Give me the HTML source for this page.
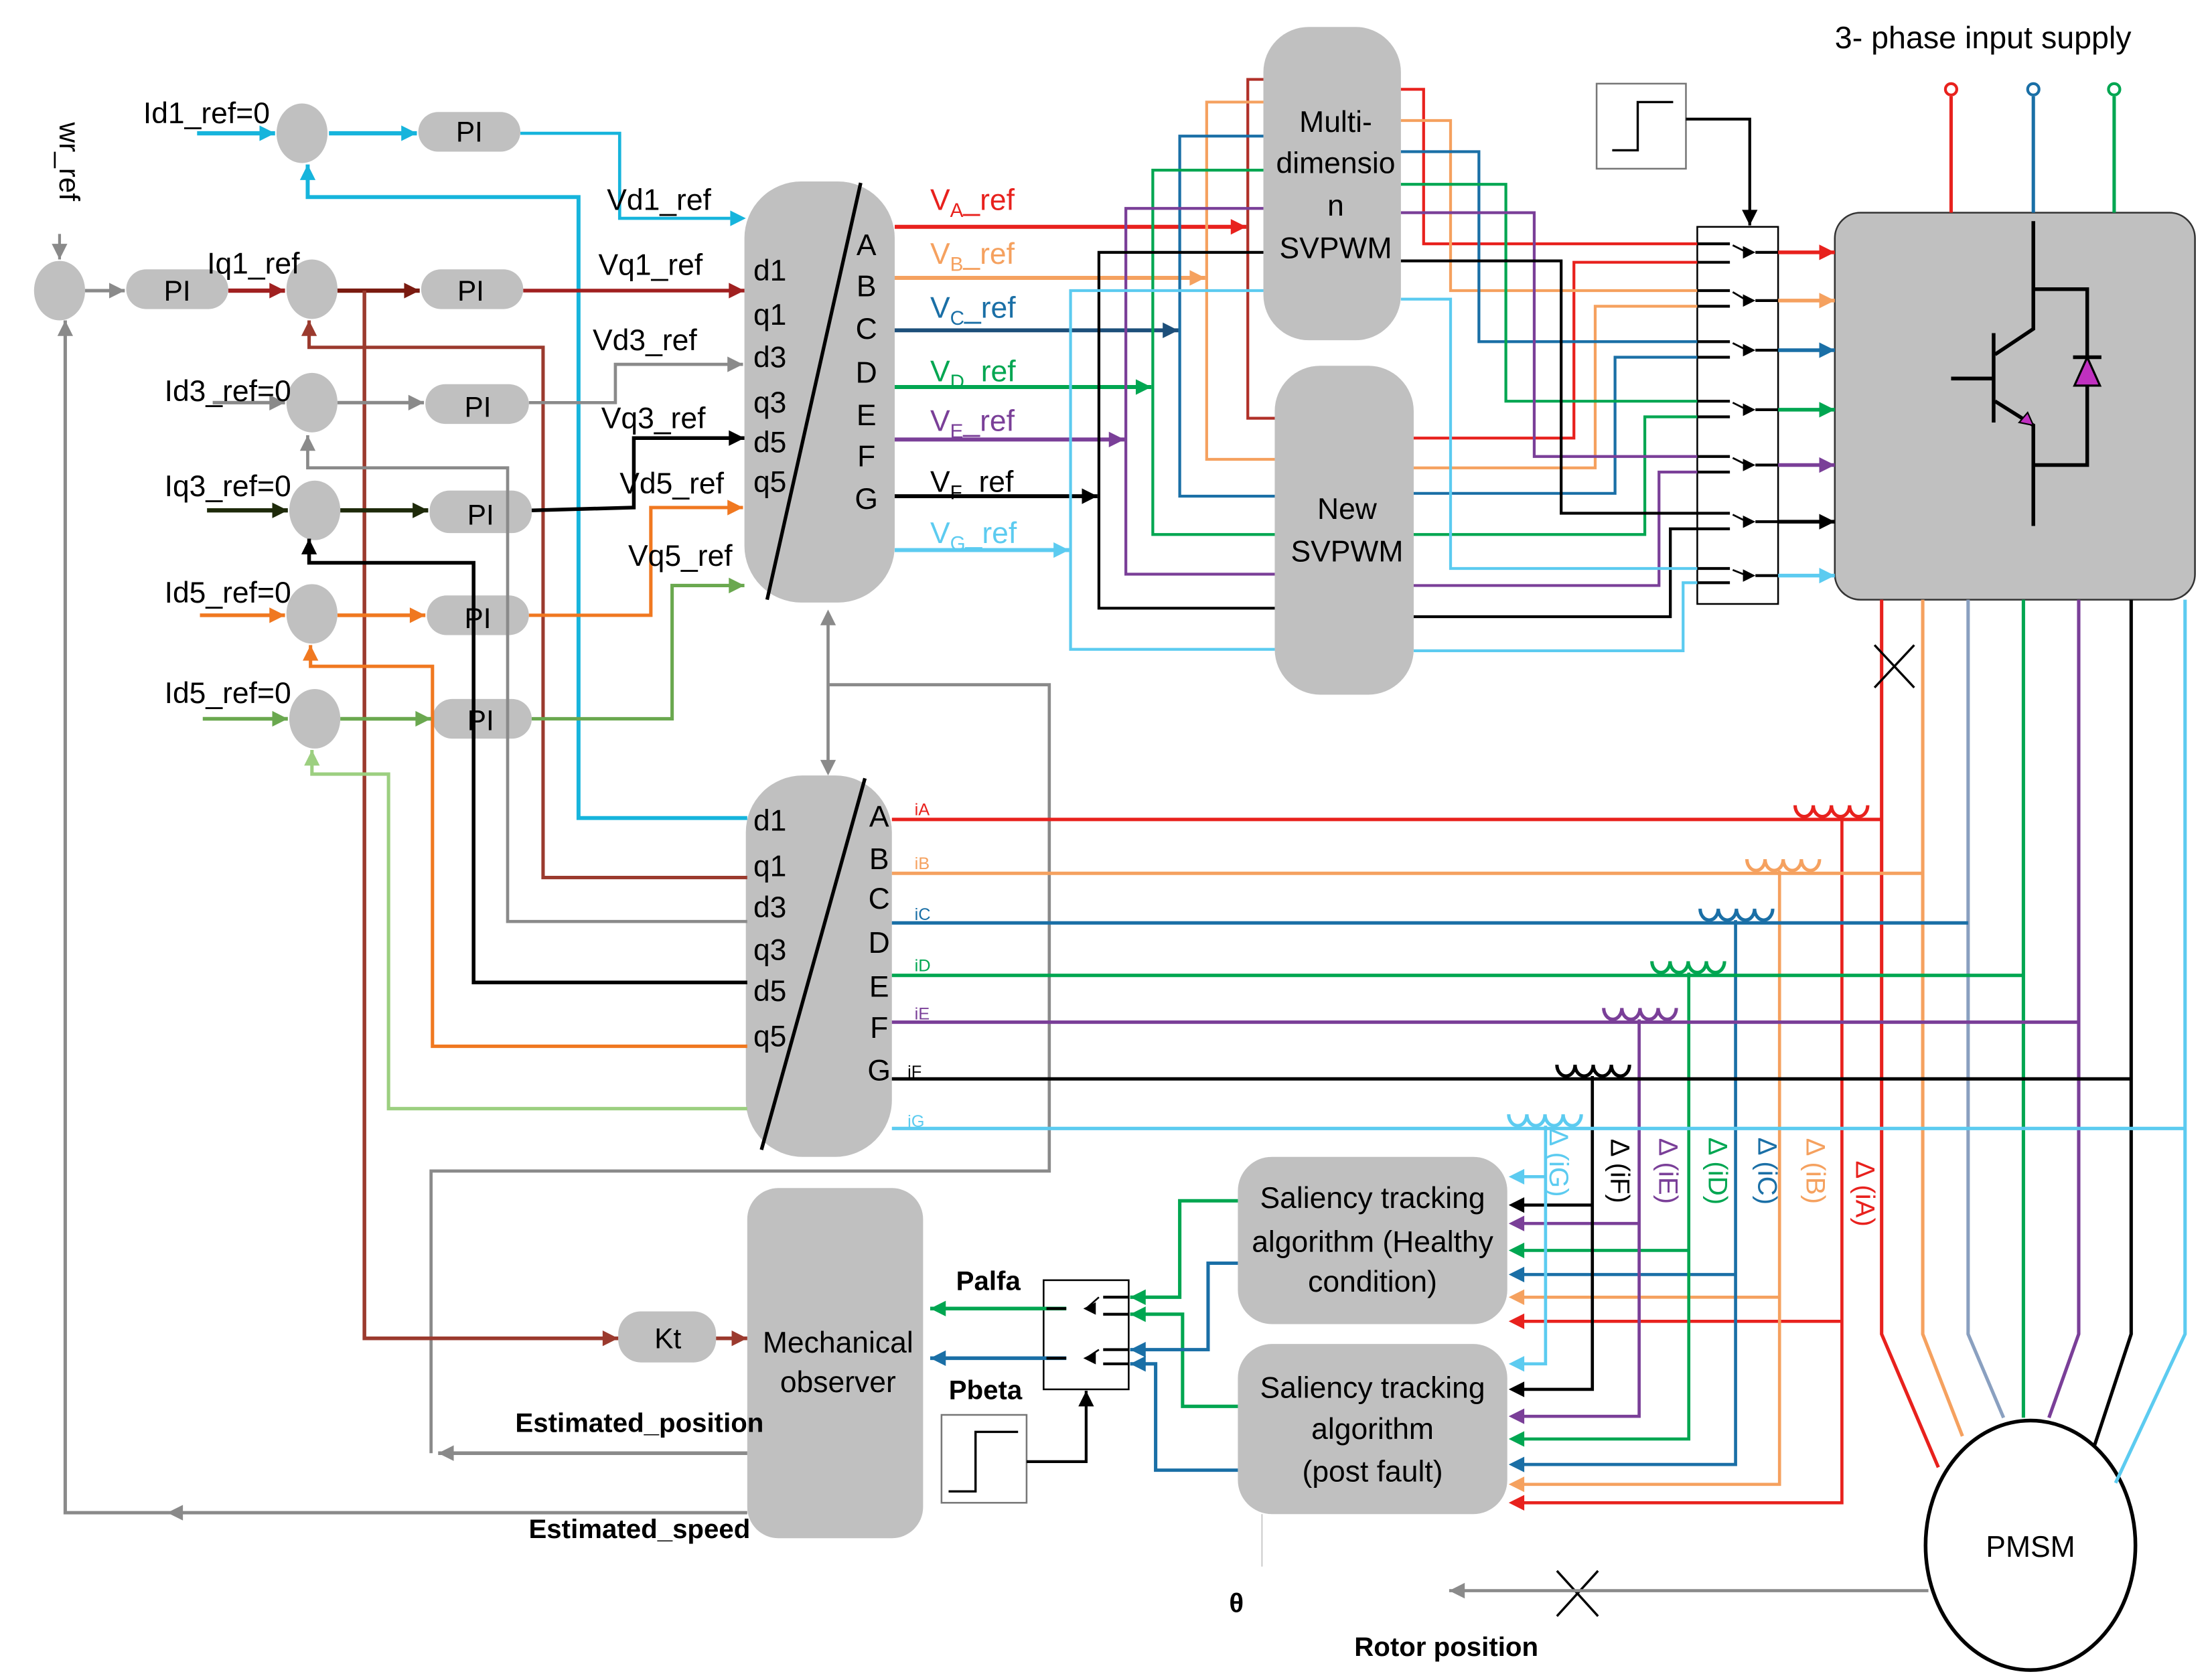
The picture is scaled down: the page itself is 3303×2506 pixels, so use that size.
<!DOCTYPE html>
<html><head><meta charset="utf-8">
<style>
html,body{margin:0;padding:0;background:#fff;}
svg{display:block;}
text{font-family:"Liberation Sans",Arial,sans-serif;}
</style></head>
<body>
<svg id="s" width="3303" height="2506" viewBox="0 0 1560 1183.6" preserveAspectRatio="none" xmlns="http://www.w3.org/2000/svg">
<rect x="0" y="0" width="1560" height="1184" fill="#fff"/>
<g id="shapes"></g>
<g id="lines" fill="none" stroke-linejoin="miter"></g>
<g id="arrows"></g>
<g font-size="21" fill="#000">
<!-- left labels -->
<text x="42" y="114" font-size="20" transform="rotate(90 42 114)" text-anchor="middle">wr_ref</text>
<text x="101" y="87">Id1_ref=0</text>
<text x="146" y="193">Iq1_ref</text>
<text x="116" y="283">Id3_ref=0</text>
<text x="116" y="350">Iq3_ref=0</text>
<text x="116" y="425">Id5_ref=0</text>
<text x="116" y="496">Id5_ref=0</text>
<text x="428" y="148">Vd1_ref</text>
<text x="422" y="194">Vq1_ref</text>
<text x="418" y="247">Vd3_ref</text>
<text x="424" y="302">Vq3_ref</text>
<text x="437" y="348">Vd5_ref</text>
<text x="443" y="399">Vq5_ref</text>
<g font-size="20" text-anchor="middle">
<text x="125" y="212">PI</text><text x="332" y="212">PI</text><text x="331" y="100">PI</text>
<text x="337" y="294">PI</text><text x="339" y="370">PI</text><text x="337" y="443">PI</text><text x="339" y="515">PI</text>
<text x="471" y="951">Kt</text>
</g>
<g font-size="21" text-anchor="middle">
<text x="543" y="198">d1</text><text x="543" y="229">q1</text><text x="543" y="259">d3</text><text x="543" y="291">q3</text><text x="543" y="319">d5</text><text x="543" y="347">q5</text>
<text x="611" y="180">A</text><text x="611" y="209">B</text><text x="611" y="239">C</text><text x="611" y="270">D</text><text x="611" y="300">E</text><text x="611" y="329">F</text><text x="611" y="359">G</text>
<text x="543" y="586">d1</text><text x="543" y="618">q1</text><text x="543" y="647">d3</text><text x="543" y="677">q3</text><text x="543" y="706">d5</text><text x="543" y="738">q5</text>
<text x="620" y="583">A</text><text x="620" y="613">B</text><text x="620" y="641">C</text><text x="620" y="672">D</text><text x="620" y="703">E</text><text x="620" y="732">F</text><text x="620" y="762">G</text>
<text x="942" y="93">Multi-</text><text x="942" y="122">dimensio</text><text x="942" y="152">n</text><text x="942" y="182">SVPWM</text>
<text x="950" y="366">New</text><text x="950" y="396">SVPWM</text>
<text x="968" y="852">Saliency tracking</text><text x="968" y="883">algorithm (Healthy</text><text x="968" y="911">condition)</text>
<text x="968" y="986">Saliency tracking</text><text x="968" y="1015">algorithm</text><text x="968" y="1045">(post fault)</text>
<text x="591" y="954">Mechanical</text><text x="591" y="982">observer</text>
<text x="1432" y="1098">PMSM</text>
</g>
<text x="1294" y="34" font-size="22">3- phase input supply</text>
<g font-size="21">
<text x="656" y="148" fill="#e8211d">V<tspan font-size="14" dy="5">A</tspan><tspan dy="-5">_ref</tspan></text>
<text x="656" y="186" fill="#f5a15f">V<tspan font-size="14" dy="5">B</tspan><tspan dy="-5">_ref</tspan></text>
<text x="656" y="224" fill="#1a6fa6">V<tspan font-size="14" dy="5">C</tspan><tspan dy="-5">_ref</tspan></text>
<text x="656" y="269" fill="#00a651">V<tspan font-size="14" dy="5">D</tspan><tspan dy="-5">_ref</tspan></text>
<text x="656" y="304" fill="#7a3f98">V<tspan font-size="14" dy="5">E</tspan><tspan dy="-5">_ref</tspan></text>
<text x="656" y="347" fill="#000">V<tspan font-size="14" dy="5">F</tspan><tspan dy="-5">_ref</tspan></text>
<text x="656" y="383" fill="#5ccbf0">V<tspan font-size="14" dy="5">G</tspan><tspan dy="-5">_ref</tspan></text>
</g>
<g font-size="12">
<text x="645" y="575" fill="#e8211d">iA</text><text x="645" y="613" fill="#f5a15f">iB</text><text x="645" y="649" fill="#1a6fa6">iC</text>
<text x="645" y="685" fill="#00a651">iD</text><text x="645" y="719" fill="#7a3f98">iE</text><text x="640" y="760" fill="#000">iF</text><text x="640" y="795" fill="#5ccbf0">iG</text>
</g>
<g font-size="19">
<text x="1093" y="820" transform="rotate(90 1093 820)" text-anchor="middle" fill="#5ccbf0">Δ (iG)</text>
<text x="1136" y="826" transform="rotate(90 1136 826)" text-anchor="middle" fill="#000">Δ (iF)</text>
<text x="1170" y="826" transform="rotate(90 1170 826)" text-anchor="middle" fill="#7a3f98">Δ (iE)</text>
<text x="1205" y="826" transform="rotate(90 1205 826)" text-anchor="middle" fill="#00a651">Δ (iD)</text>
<text x="1240" y="826" transform="rotate(90 1240 826)" text-anchor="middle" fill="#1a6fa6">Δ (iC)</text>
<text x="1274" y="826" transform="rotate(90 1274 826)" text-anchor="middle" fill="#f5a15f">Δ (iB)</text>
<text x="1309" y="842" transform="rotate(90 1309 842)" text-anchor="middle" fill="#e8211d">Δ (iA)</text>
</g>
<g font-weight="bold" font-size="19">
<text x="697" y="910" text-anchor="middle">Palfa</text>
<text x="695" y="987" text-anchor="middle">Pbeta</text>
<text x="451" y="1010" text-anchor="middle">Estimated_position</text>
<text x="451" y="1085" text-anchor="middle">Estimated_speed</text>
<text x="872" y="1137" text-anchor="middle">θ</text>
<text x="1020" y="1168" text-anchor="middle">Rotor position</text>
</g>
</g>
</svg>
<script>
(function(){
var NS="http://www.w3.org/2000/svg";
var G1=document.getElementById('shapes'),GL=document.getElementById('lines'),GA=document.getElementById('arrows');
function el(p,t,a){var e=document.createElementNS(NS,t);for(var k in a)e.setAttribute(k,a[k]);p.appendChild(e);return e;}
function L(pts,c,w){var d='M'+pts.map(function(p){return p[0]+','+p[1]}).join(' L');el(GL,'path',{d:d,stroke:c,'stroke-width':w||2.4,fill:'none'});}
function A(x,y,dir,c,s){s=s||1;var l=11*s,h=5.5*s,pts;
 if(dir=='r')pts=[[x,y],[x-l,y-h],[x-l,y+h]];else if(dir=='l')pts=[[x,y],[x+l,y-h],[x+l,y+h]];
 else if(dir=='u')pts=[[x,y],[x-h,y+l],[x+h,y+l]];else pts=[[x,y],[x-h,y-l],[x+h,y-l]];
 el(GA,'polygon',{points:pts.map(function(p){return p.join(',')}).join(' '),fill:c});}
function LA(pts,c,w,dir){L(pts,c,w);var p=pts[pts.length-1];A(p[0],p[1],dir,c);}
var GR='#c0c0c0';
function R(x,y,w,h,r,f,st){el(G1,'rect',{x:x,y:y,width:w,height:h,rx:r,ry:r,fill:f||GR,stroke:st||'none','stroke-width':1.2});}
function E(cx,cy,rx,ry){el(G1,'ellipse',{cx:cx,cy:cy,rx:rx,ry:ry,fill:GR});}
// blocks
R(525,128,106,297,40);R(526,547,103,269,40);
R(891,19,97,221,32);R(899,258,98,232,32);
R(1294,150,254,273,18,GR,'#333');
R(873,816,190,118,24);R(873,948,190,120,24);
R(527,838,124,247,22);
R(89,190,72,28,14);R(297,190,72,28,14);R(295,79,72,28,14);R(300,271,73,28,14);R(303,346,72,30,14);R(301,420,72,28,14);R(305,493,70,28,14);
R(436,925,69,36,16);
E(42,205,18,21);E(220,204,18,21);E(213,94,18,21);E(220,284,18,21);E(222,360,18,21);E(220,433,18,21);E(222,507,18,21);
el(G1,'ellipse',{cx:1432,cy:1090,rx:74,ry:88,fill:'#fff',stroke:'#000','stroke-width':2.6});
// switches & step
R(1197,160,57,266,0,'#fff','#000');R(736,903,60,77,0,'#fff','#000');
R(1126,59,63,60,0,'#fff','#777');R(664,998,60,62,0,'#fff','#777');
L([[1137,106],[1155,106],[1155,72],[1180,72]],'#000',1.6);
L([[669,1052],[688,1052],[688,1010],[718,1010]],'#000',1.6);
// transform diagonals
L([[607,129],[541,423]],'#000',2.5);L([[610,549],[537,811]],'#000',2.5);
var C={r:'#e8211d',o:'#f5a15f',b:'#1a6fa6',g:'#00a651',p:'#7a3f98',k:'#000000',l:'#5ccbf0'};
var K=['r','o','b','g','p','k','l'];
var GY='#8a8a8a',CY='#16b4dc',BR='#9b3a2e',DK='#1e2a0a',OR='#f07820',LG='#6aa84f';
// speed loop
LA([[42,165],[42,183]],GY,2,'d');
LA([[60,205],[88,205]],GY,2.4,'r');
LA([[527,1067],[46,1067],[46,226]],GY,2.4,'u');A(118,1067,'l',GY);
LA([[527,1025],[309,1025]],GY,2.6,'l');
L([[304,1025],[304,826],[740,826],[740,483],[584,483]],GY,2.2);
L([[584,440],[584,545]],GY,2.2);A(584,430,'u',GY);A(584,547,'d',GY);
// Id1
LA([[139,94],[194,94]],CY,3,'r');LA([[232,94],[294,94]],CY,3,'r');
L([[367,94],[437,94],[437,154],[515,154]],CY,2.2);A(526,154,'r',CY);
LA([[527,577],[408,577],[408,139],[217,139],[217,116]],CY,2.8,'u');
// Iq1
LA([[161,205],[201,205]],'#a02020',3,'r');LA([[238,205],[296,205]],'#7a1a10',3,'r');
LA([[369,205],[525,205]],'#a02020',2.6,'r');
LA([[527,619],[383,619],[383,245],[218,245],[218,226]],BR,2.4,'u');
LA([[257,205],[257,944],[436,944]],BR,2.6,'r');LA([[505,944],[527,944]],BR,2.6,'r');
// Id3
LA([[150,284],[201,284]],GY,2.4,'r');LA([[238,284],[299,284]],GY,2.4,'r');
LA([[373,284],[434,284],[434,257],[524,257]],GY,2.2,'r');
LA([[527,650],[358,650],[358,330],[217,330],[217,307]],GY,2.2,'u');
// Iq3
LA([[146,360],[203,360]],DK,3,'r');LA([[240,360],[302,360]],DK,3,'r');
LA([[375,360],[447,358],[447,309],[525,309]],'#000',2.6,'r');
LA([[527,693],[334,693],[334,397],[218,397],[218,380]],'#000',2.6,'u');
// Id5
LA([[141,434],[201,434]],OR,2.6,'r');LA([[238,434],[300,434]],OR,2.6,'r');
LA([[373,434],[459,434],[459,358],[524,358]],OR,2.4,'r');
LA([[527,738],[305,738],[305,470],[219,470],[219,455]],OR,2.4,'u');
// Id5b
LA([[143,507],[203,507]],LG,2.6,'r');LA([[240,507],[304,507]],LG,2.6,'r');
LA([[375,507],[474,507],[474,413],[525,413]],LG,2.4,'r');
LA([[527,782],[274,782],[274,546],[220,546],[220,529]],'#9ccf80',2.4,'u');
// V refs
var vy=[160,196,233,273,310,350,388],vx=[880,851,832,813,794,775,755];
var top=[56,72,96,120,147,178,205],bot=[295,324,350,377,405,429,458];
var vc=['#e8211d','#f5a15f','#1d4f7a','#00a651','#7a3f98','#000','#5ccbf0'];
for(var i=0;i<7;i++){
 var c=C[K[i]];
 LA([[631,vy[i]],[vx[i]-1,vy[i]]],vc[i],2.8,'r');
 L([[891,top[i]],[vx[i],top[i]],[vx[i],bot[i]],[899,bot[i]]],i==0?'#b03028':c,2);
}
var ry=[63,85,107,130,150,184,211],rx=[1004,1023,1043,1062,1082,1101,1023];
var in1=[172,205,241,283,322,362,401];
var ny=[309,330,348,377,413,435,459],nx=[1110,1125,1139,1160,1170,1178,1187];
var in2=[185,216,252,294,333,373,411];
var oy=[178,212,247,289,328,368,406];
for(var i=0;i<7;i++){
 var c=C[K[i]];
 L([[988,ry[i]],[rx[i],ry[i]],[rx[i],in1[i]],[1197,in1[i]]],c,2);
 L([[997,ny[i]],[nx[i],ny[i]],[nx[i],in2[i]],[1197,in2[i]]],c,2);
 L([[1197,in1[i]],[1220,in1[i]]],'#000',2);L([[1197,in2[i]],[1220,in2[i]]],'#000',2);
 L([[1222,in1[i]+1],[1232,oy[i]]],'#000',1.3);A(1238,oy[i],'r','#000',0.8);
 L([[1238,oy[i]],[1254,oy[i]]],'#000',2);
 LA([[1254,oy[i]],[1294,oy[i]]],c,2.6,'r');
}
// step -> switch
LA([[1189,84],[1234,84],[1234,159]],'#000',2,'d');
// supply
var sx=[1376,1434,1491],sc=[C.r,C.b,C.g];
for(var i=0;i<3;i++){L([[sx[i],68],[sx[i],150]],sc[i],2.4);el(G1,'circle',{cx:sx[i],cy:63,r:4,fill:'#fff',stroke:sc[i],'stroke-width':2});}
// IGBT
L([[1434,156],[1434,232],[1407,250]],'#000',2.6);L([[1406,235],[1406,298]],'#000',2.6);
L([[1376,267],[1406,267]],'#000',2.6);L([[1407,283],[1434,300],[1434,371]],'#000',2.6);
L([[1434,204],[1472,204],[1472,328],[1434,328]],'#000',2.6);
L([[1462,252],[1482,252]],'#000',2.6);
el(GA,'polygon',{points:'1472,252 1463,272 1481,272',fill:'#c030c0',stroke:'#000','stroke-width':1.5});
el(GA,'polygon',{points:'1434,300 1424,298 1430,291',fill:'#c030c0',stroke:'#000','stroke-width':1});
// current lines
var hx=[1327,1356,1388,1427,1466,1503,1541],hy=[578,616,651,688,721,761,796];
var mx=[[1367,1035],[1384,1013],[1413,1000],[1427,1000],[1445,1000],[1477,1020],[1492,1046]];
var dx=[1299,1255,1224,1191,1156,1123,1090];
var cs=[1266,1232,1199,1165,1131,1098,1064];
var hh=[932,915,899,882,863,850,830],pf=[1060,1047,1033,1015,999,980,962];
for(var i=0;i<7;i++){
 var c=C[K[i]];
 L([[hx[i],423],[hx[i],941],mx[i]],i==2?'#8aa0c0':c,2.4);
 L([[629,hy[i]],[hx[i],hy[i]]],c,2.4);
 var d='M'+cs[i]+','+(hy[i]-10);for(var j=0;j<4;j++)d+=' a6.4,8 0 0 0 12.8,0';
 el(GL,'path',{d:d,stroke:c,'stroke-width':2.4,fill:'none'});
 L([[dx[i],hy[i]-2],[dx[i],pf[i]],[1072,pf[i]]],c,2.2);A(1064,pf[i],'l',c);
 L([[dx[i],hh[i]],[1072,hh[i]]],c,2.2);A(1064,hh[i],'l',c);
}
// X marks
L([[1322,455],[1350,485]],'#000',1.6);L([[1350,455],[1322,485]],'#000',1.6);
L([[1098,1108],[1127,1140]],'#000',1.6);L([[1127,1108],[1098,1140]],'#000',1.6);
LA([[1360,1122],[1022,1122]],GY,2.2,'l');
L([[890,1068],[890,1105]],'#ccc',1);
// saliency outputs
LA([[873,847],[832,847],[832,915],[797,915]],C.g,2.4,'l');
LA([[873,992],[834,992],[834,927],[797,927]],C.g,2.4,'l');
LA([[873,891],[852,891],[852,952],[797,952]],C.b,2.4,'l');
LA([[873,1037],[815,1037],[815,962],[797,962]],C.b,2.4,'l');
// small switch internals
[[915,927,923],[952,962,958]].forEach(function(v){
 L([[778,v[0]],[796,v[0]]],'#000',2);L([[778,v[1]],[796,v[1]]],'#000',2);
 A(764,v[2],'l','#000',0.8);L([[766,v[2]],[775,v[0]]],'#000',1.2);
});
LA([[752,923],[656,923]],C.g,2.6,'l');LA([[752,958],[656,958]],C.b,2.6,'l');
L([[738,923],[752,923]],'#000',2);L([[738,958],[752,958]],'#000',2);
LA([[724,1031],[766,1031],[766,981]],'#000',2,'u');
})();
</script>
</body></html>
